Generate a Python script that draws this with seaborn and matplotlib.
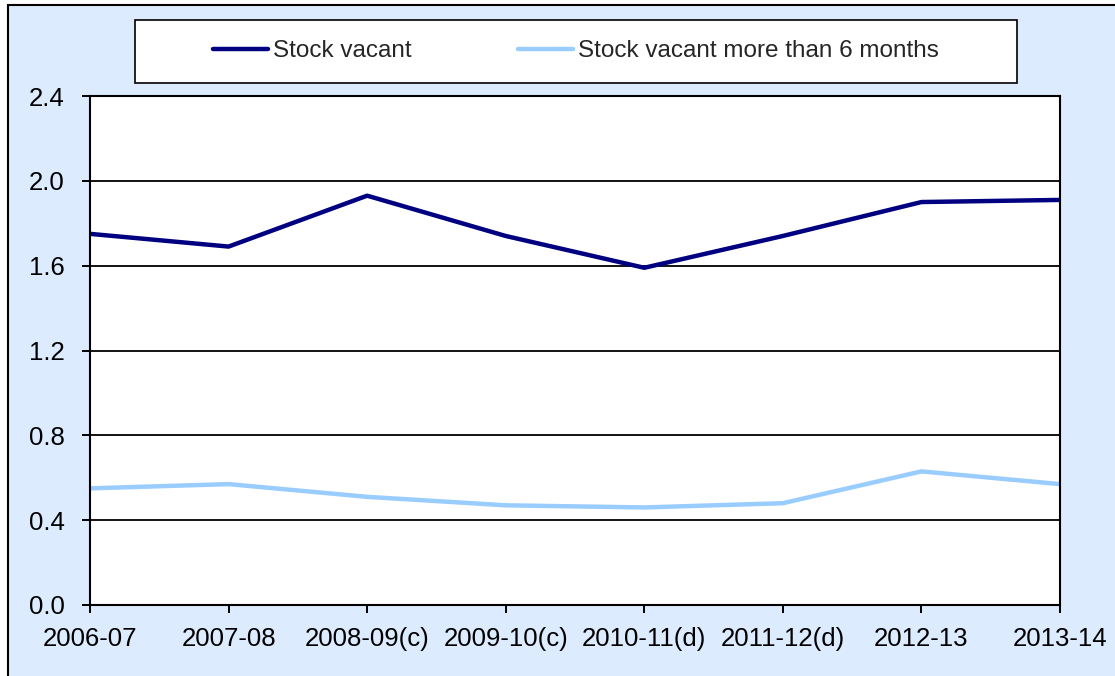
import matplotlib
matplotlib.use("Agg")
import matplotlib.pyplot as plt
from matplotlib.patches import Rectangle
import seaborn as sns
import pandas as pd

years = ["2006-07", "2007-08", "2008-09(c)", "2009-10(c)", "2010-11(d)",
         "2011-12(d)", "2012-13", "2013-14"]
stock_vacant = [1.75, 1.69, 1.93, 1.74, 1.59, 1.74, 1.90, 1.91]
vacant_6m = [0.55, 0.57, 0.51, 0.47, 0.46, 0.48, 0.63, 0.57]
series_names = ["Stock vacant", "Stock vacant more than 6 months"]
y_ticks = [0.0, 0.4, 0.8, 1.2, 1.6, 2.0, 2.4]

df = pd.DataFrame({
    "year": years * 2,
    "value": stock_vacant + vacant_6m,
    "series": [series_names[0]] * len(years) + [series_names[1]] * len(years),
})

sns.set_style("white")
plt.rcParams["font.family"] = ["Liberation Sans", "DejaVu Sans"]

W, H = 1115, 676
fig = plt.figure(figsize=(W / 100, H / 100), dpi=100)
fig.patch.set_facecolor("white")

# light blue chart area with dark border
fig.patches.append(Rectangle((8 / W, -0.05), 1.1, (H - 5) / H + 0.05,
                             transform=fig.transFigure, facecolor="#DDEBFF",
                             edgecolor="black", lw=1.5, zorder=-2))
# legend box
fig.patches.append(Rectangle((135 / W, (H - 83) / H), 882 / W, 63 / H,
                             transform=fig.transFigure, facecolor="white",
                             edgecolor="black", lw=1.2, zorder=-1))

ax = fig.add_axes([90 / W, (H - 605) / H, 970 / W, 509 / H])
ax.set_zorder(2)
ax.set_facecolor("white")

sns.lineplot(data=df, x="year", y="value", hue="series", sort=False,
             palette=["#000080", "#99CCFF"], linewidth=3.2, ax=ax, legend=False)

ax.set_xlim(0, len(years) - 1)
ax.set_ylim(0, 2.4)
ax.set_yticks(y_ticks)
ax.set_yticklabels([f"{v:.1f}" for v in y_ticks])
for v in y_ticks[1:]:
    ax.axhline(v, color="black", lw=1.3, zorder=0.5)
ax.set_xlabel("")
ax.set_ylabel("")
for s in ax.spines.values():
    s.set_color("black")
    s.set_linewidth(1.5)
ax.tick_params(axis="both", direction="out", length=6, width=1.4,
               color="black", labelsize=18.5, labelcolor="black")
ax.tick_params(axis="y", pad=12)
ax.tick_params(axis="x", pad=10)
ax.tick_params(left=True, bottom=True)

handles = [plt.Line2D([], [], color="#000080", lw=3.2),
           plt.Line2D([], [], color="#99CCFF", lw=3.2)]
leg = fig.legend(handles, series_names, loc="center", ncol=2,
                 bbox_to_anchor=(576 / W, (H - 51) / H), frameon=False,
                 fontsize=17.5, handlelength=2.26, handletextpad=0.2,
                 columnspacing=4.36)
leg.set_zorder(3)

fig.savefig("out.png", dpi=100, facecolor="white")
